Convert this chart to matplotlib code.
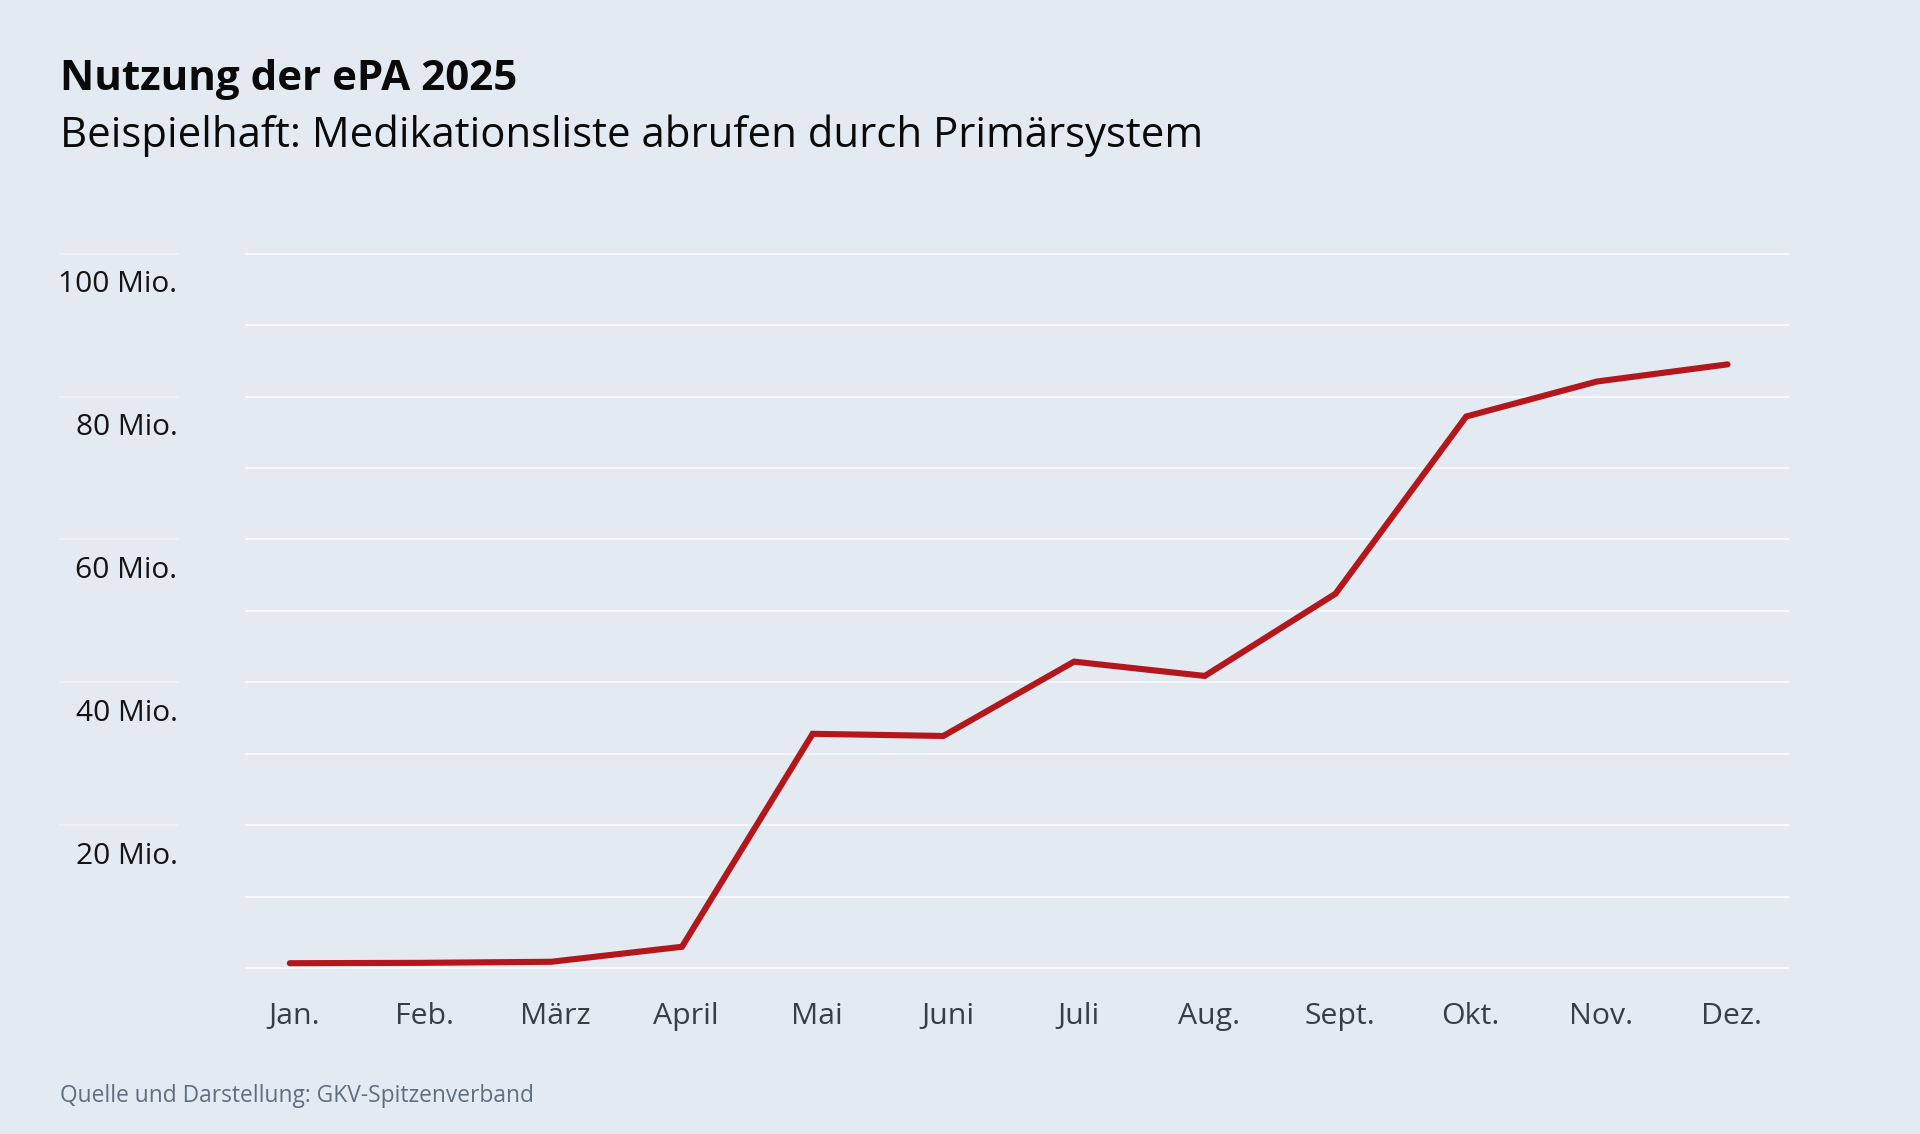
import matplotlib
matplotlib.use("Agg")
import matplotlib.pyplot as plt
import matplotlib.transforms as mtransforms
from matplotlib.lines import Line2D

months = ["Jan.", "Feb.", "März", "April", "Mai", "Juni", "Juli", "Aug.", "Sept.", "Okt.", "Nov.", "Dez."]
values_mio = [0.7, 0.75, 0.9, 3.0, 32.8, 32.5, 42.9, 40.9, 52.4, 77.2, 82.1, 84.5]
grid_values = [0, 10, 20, 30, 40, 50, 60, 70, 80, 90, 100]
label_values = [20, 40, 60, 80, 100]
label_texts = ["20 Mio.", "40 Mio.", "60 Mio.", "80 Mio.", "100 Mio."]

title = "Nutzung der ePA 2025"
subtitle = "Beispielhaft: Medikationsliste abrufen durch Primärsystem"
source = "Quelle und Darstellung: GKV-Spitzenverband"

BG = "#e4eaf2"
LINE = "#b3171c"
GRID = "#f6f8fb"

plt.rcParams['font.family'] = ['Open Sans', 'DejaVu Sans']

W, H = 1920, 1134
fig = plt.figure(figsize=(W / 100, H / 100), dpi=100, facecolor=BG)

ppm = 7.146  # pixels per Mio
y0_px = 968.2
ylo, yhi = -1, 101
bottom_px = y0_px + (0 - ylo) * ppm
top_px = y0_px - (yhi - 0) * ppm
left_px, right_px = 245, 1789
ax = fig.add_axes([left_px / W, 1 - bottom_px / H, (right_px - left_px) / W, (bottom_px - top_px) / H])
ax.set_facecolor(BG)

x = list(range(len(months)))
ax.plot(x, values_mio, color=LINE, lw=4.4, solid_capstyle='round', solid_joinstyle='miter', zorder=3)

ax.set_ylim(ylo, yhi)
ax.set_xlim(-0.343, 11.47)
for gv in grid_values:
    ax.axhline(gv, color=GRID, lw=1.5, zorder=1)

for s in ax.spines.values():
    s.set_visible(False)
ax.set_yticks([])
ax.set_xticks(x)
ax.set_xticklabels(months, fontsize=21.8, color="#373e4a")
ax.tick_params(axis='x', length=0, pad=19.3)
shift = mtransforms.ScaledTranslation(4.3 / 100, 0, fig.dpi_scale_trans)
for lab in ax.get_xticklabels():
    lab.set_transform(lab.get_transform() + shift)

# y labels below their gridlines, plus short left segments
blend = mtransforms.blended_transform_factory(fig.transFigure, ax.transData)
off = mtransforms.ScaledTranslation(0, -38.4 / 100, fig.dpi_scale_trans)
for v, t in zip(label_values, label_texts):
    ax.text(177.5 / W, v, t, transform=blend + off, ha='right', va='baseline',
            fontsize=21.5, color="#141414")
    ax.add_line(Line2D([60 / W, 178 / W], [v, v], transform=blend, color="#edf1f6",
                       lw=1.5, clip_on=False))

fig.text(60 / W, 1 - 90 / H, title, fontsize=30.3, fontweight='bold', color="#0a0a0a",
         ha='left', va='baseline')
fig.text(60 / W, 1 - 147 / H, subtitle, fontsize=30.15, color="#0a0a0a",
         ha='left', va='baseline')
fig.text(60 / W, 1 - 1101.7 / H, source, fontsize=16.4, color="#5f6f80",
         ha='left', va='baseline')

fig.savefig("out.png", dpi=100, facecolor=BG)
